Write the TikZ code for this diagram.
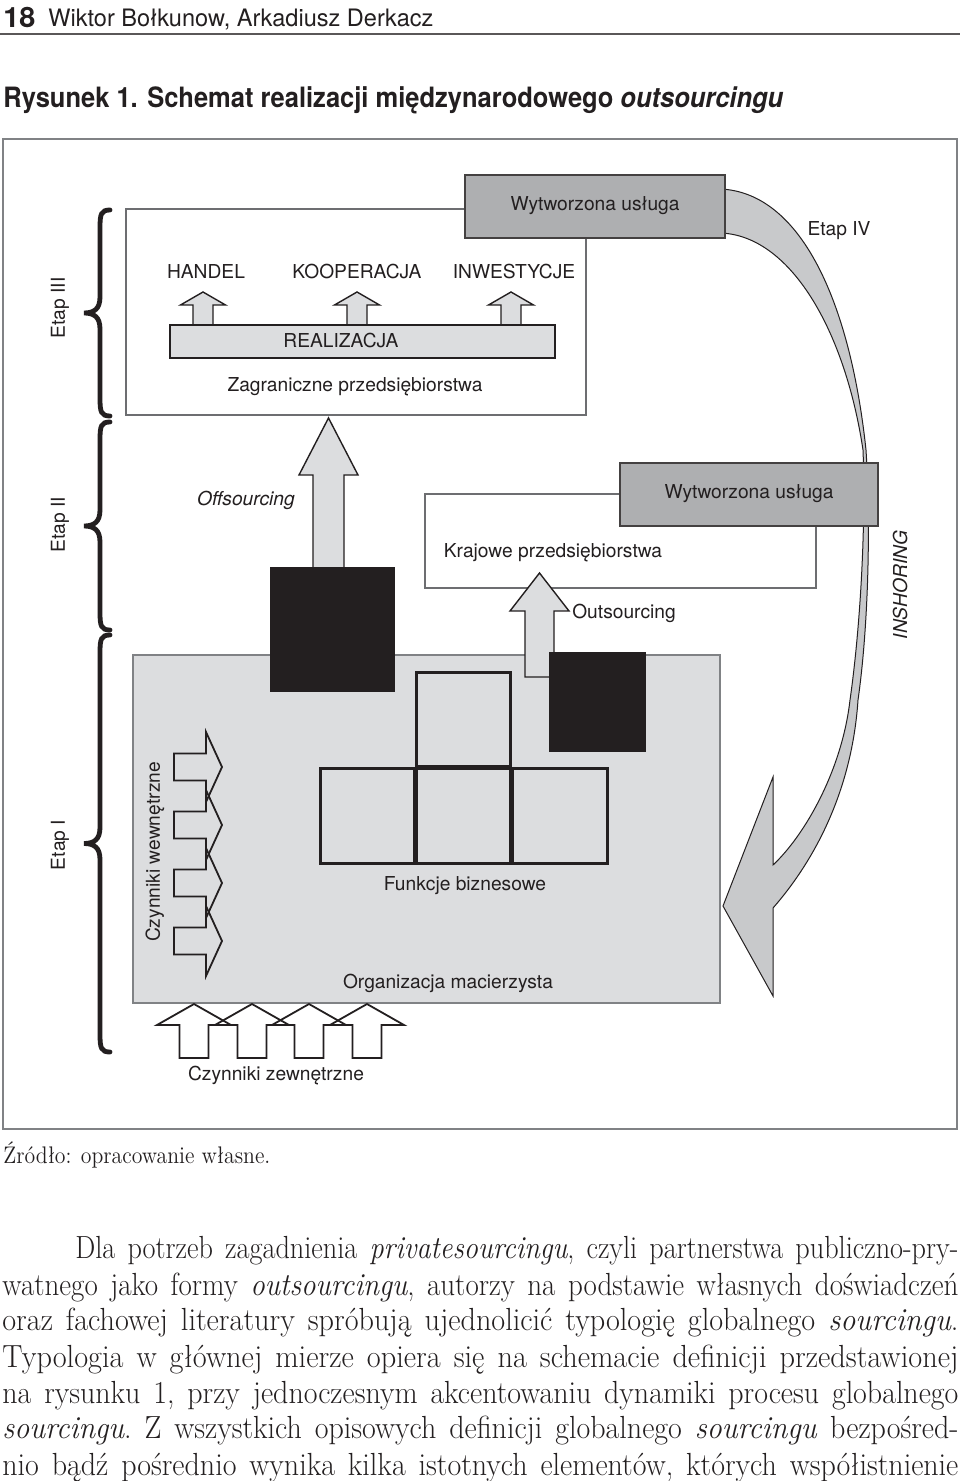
\documentclass[tikz,border=0pt]{standalone}
\usepackage{fontspec}
\usepackage{graphicx}
\newfontfamily\hv{TeX Gyre Heros}
\definecolor{ink}{HTML}{231F20}
\definecolor{framec}{HTML}{808285}
\definecolor{lgray}{HTML}{DCDDDF}
\definecolor{mgray}{HTML}{C8C9CB}
\definecolor{dgray}{HTML}{AEAFB1}
\definecolor{bline}{HTML}{6D6E71}
\newcommand\fitw[2]{\resizebox{#1}{\height}{#2}}
\newcommand\bodyln[2]{\fitw{#1}{\frenchspacing\spaceskip=0.43em\relax #2}}
\newcommand\blockup[7]{% style, cx, tipy, basey, headhalf, stemhalf, bottomy
  \draw[#1] (#2,#3) -- (#2+#5,#4) -- (#2+#6,#4) -- (#2+#6,#7) -- (#2-#6,#7) -- (#2-#6,#4) -- (#2-#5,#4) -- cycle;}
\newcommand\blockright[1]{%
  \draw[outarr] (222,#1) -- (206,#1+35) -- (206,#1+13.5) -- (174,#1+13.5) -- (174,#1-13.5) -- (206,#1-13.5) -- (206,#1-35) -- cycle;}
\newcommand\etapbrace[3]{% x of ends, top y, bottom y
  \pgfmathsetmacro\ym{(#2+#3)/2}
  \draw[brc] (#1,#2) .. controls (#1-9,#2) and (#1-10,#2+4) .. (#1-10,#2+18) -- (#1-10,\ym-16) .. controls (#1-10,\ym-4) and (#1-16,\ym) .. (#1-26,\ym) .. controls (#1-16,\ym) and (#1-10,\ym+4) .. (#1-10,\ym+16) -- (#1-10,#3-18) .. controls (#1-10,#3-4) and (#1-9,#3) .. (#1,#3);}
\begin{document}
\begin{tikzpicture}[x=0.5pt,y=-0.5pt,
  lab/.style={font=\hv\fontsize{9.6}{11.5}\selectfont, text=ink, inner sep=0pt},
  thinbox/.style={draw=bline, line width=0.6pt},
  darkbox/.style={draw=ink!85, line width=0.8pt, fill=dgray},
  smallarr/.style={draw=ink, line width=0.7pt, fill=lgray, line join=miter},
  outarr/.style={draw=ink, line width=0.9pt, line join=miter},
  funcsq/.style={draw=ink, line width=1.5pt, fill=lgray},
  brc/.style={draw=ink, line width=2.4pt, line cap=round},
  ribbon/.style={draw=ink, line width=0.5pt, fill=mgray},
  bodytxt/.style={font=\fontsize{16}{19}\selectfont, text=ink, inner sep=0pt, anchor=base west}
]
\fill[white] (0,0) rectangle (960,1481);
\useasboundingbox (0,0) rectangle (960,1481);

% header
\node[anchor=base west, inner sep=0pt, text=ink, font=\hv\bfseries\fontsize{14}{16}\selectfont] (pg) at (3,28) {\fitw{16pt}{18}};
\node[anchor=base west, inner sep=0pt, text=ink, font=\hv\fontsize{12}{14}\selectfont] (au) at (48,27) {\fitw{192.5pt}{Wiktor Bołkunow, Arkadiusz Derkacz}};
\draw[draw=ink!75, line width=0.8pt] (0,34) -- (960,34);
\node[anchor=base west, inner sep=0pt, text=ink, font=\hv\bfseries\fontsize{14}{16}\selectfont] (cap) at (3,108) {\fitw{390pt}{Rysunek 1. Schemat realizacji międzynarodowego \textit{outsourcingu}}};

% frame
\draw[draw=framec, line width=1pt] (3,139) rectangle (957,1129);

% Etap IV ribbon
\draw[ribbon] (720,189) .. controls (800,192) and (850,300) .. (866,450)
  .. controls (871,530) and (868,630) .. (858,700)
  .. controls (852,790) and (815,860) .. (773,908)
  -- (773,996) -- (723,906) -- (773,777) -- (773,865)
  .. controls (805,835) and (842,770) .. (850,700)
  .. controls (860,630) and (866,530) .. (863,450)
  .. controls (845,330) and (790,235) .. (720,233) -- cycle;

% Etap III
\draw[thinbox, fill=white] (126,209) rectangle (586,415);
\draw[darkbox] (465,175) rectangle (725,238);
\node[lab] (w1) at (595,206) {Wytworzona usługa};
\node[lab] (etap4) at (839,231) {Etap IV};
\blockup{smallarr}{203}{292}{305}{22.5}{10}{326}
\blockup{smallarr}{357}{292}{305}{22.5}{10}{326}
\blockup{smallarr}{511}{292}{305}{22.5}{10}{326}
\draw[smallarr] (170,325) rectangle (555,358);
\node[lab] (handel) at (206,272) {HANDEL};
\node[lab] (koop) at (357,272) {KOOPERACJA};
\node[lab] (inwest) at (514,272) {INWESTYCJE};
\node[lab] (real) at (341,341) {REALIZACJA};
\node[lab] (zagr) at (355,387) {Zagraniczne przedsiębiorstwa};

% Etap II
\draw[thinbox, fill=white] (425,494) rectangle (816,588);
\draw[darkbox] (620,463) rectangle (878,526);
\node[lab] (w2) at (749,494) {Wytworzona usługa};
\node[lab] (kraj) at (553,553) {Krajowe przedsiębiorstwa};
\node[lab, font=\hv\itshape\fontsize{9.6}{11.5}\selectfont] (off) at (246,500) {Offsourcing};
\node[lab] (outs) at (624,613) {Outsourcing};
\node[lab, font=\hv\itshape\fontsize{9.6}{11.5}\selectfont, rotate=90] (insh) at (900,585) {INSHORING};

% Etap I
\draw[draw=framec, line width=0.6pt, fill=lgray] (133,655) rectangle (720,1003);
\draw[funcsq] (416,672) rectangle (510,766);
\draw[funcsq] (320,768) rectangle (414,863);
\draw[funcsq] (416,768) rectangle (510,863);
\draw[funcsq] (512,768) rectangle (607,863);
\blockup{smallarr}{328.5}{418}{475}{29.5}{15.5}{570}
\fill[ink] (270,567) rectangle (395,692);
\blockup{smallarr}{539.5}{573}{611}{29.5}{14.5}{677}
\fill[ink] (549,652) rectangle (646,752);
\node[lab] (funk) at (465,886) {Funkcje biznesowe};
\node[lab] (org) at (448,983) {Organizacja macierzysta};
\blockright{767}
\blockright{825}
\blockright{883}
\blockright{941}
\node[lab, rotate=90] (czw) at (155,852) {Czynniki wewnętrzne};
\blockup{outarr}{194}{1004}{1025}{37}{14.5}{1058}
\blockup{outarr}{252}{1004}{1025}{37}{14.5}{1058}
\blockup{outarr}{309}{1004}{1025}{37}{14.5}{1058}
\blockup{outarr}{367}{1004}{1025}{37}{14.5}{1058}
\node[lab] (czz) at (276,1076) {Czynniki zewnętrzne};

% braces
\etapbrace{110}{210}{416}
\etapbrace{110}{422}{630}
\etapbrace{110}{635}{1052}
\node[lab, rotate=90] (e3) at (60,308) {Etap III};
\node[lab, rotate=90] (e2) at (60,525) {Etap II};
\node[lab, rotate=90] (e1) at (60,845) {Etap I};

% source and body text
\node[anchor=base west, inner sep=0pt, text=ink, font=\fontsize{12}{14}\selectfont] (src) at (3,1163) {\fitw{133.5pt}{Źródło: opracowanie własne.}};
\node[bodytxt] (b1) at (75,1258) {\bodyln{441.5pt}{Dla potrzeb zagadnienia \textit{privatesourcingu}, czyli partnerstwa publiczno-pry-}};
\node[bodytxt] (b2) at (2,1295) {\bodyln{478pt}{watnego jako formy \textit{outsourcingu}, autorzy na podstawie własnych doświadczeń}};
\node[bodytxt] (b3) at (2,1330) {\bodyln{478pt}{oraz fachowej literatury spróbują ujednolicić typologię globalnego \textit{sourcingu}.}};
\node[bodytxt] (b4) at (2,1367) {\bodyln{478pt}{Typologia w głównej mierze opiera się na schemacie definicji przedstawionej}};
\node[bodytxt] (b5) at (2,1403) {\bodyln{478pt}{na rysunku 1, przy jednoczesnym akcentowaniu dynamiki procesu globalnego}};
\node[bodytxt] (b6) at (2,1438) {\bodyln{478pt}{\textit{sourcingu}. Z wszystkich opisowych definicji globalnego \textit{sourcingu} bezpośred-}};
\node[bodytxt] (b7) at (2,1475) {\bodyln{478pt}{nio bądź pośrednio wynika kilka istotnych elementów, których współistnienie}};
\end{tikzpicture}
\end{document}
